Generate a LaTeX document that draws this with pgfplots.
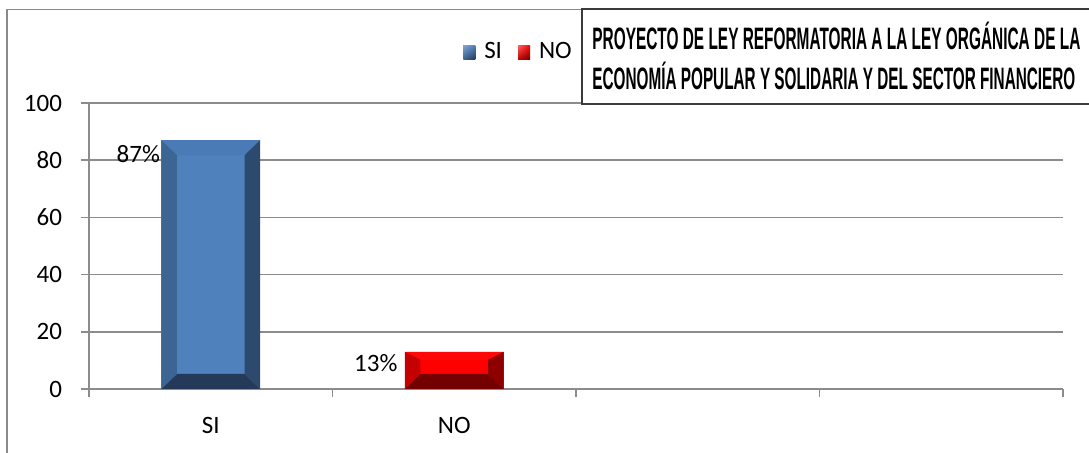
\documentclass[border=0pt]{standalone}
\usepackage{fontspec}
\setmainfont{Carlito}
\newfontfamily\titlefont{Liberation Sans}
\usepackage{pgfplots}
\pgfplotsset{compat=1.18}
\usetikzlibrary{shadings}
\usepackage{graphicx}
\definecolor{gridgray}{HTML}{8C8C8C}
\definecolor{bordergray}{HTML}{8A8A8A}
\definecolor{titlegray}{HTML}{3A3A3A}
\definecolor{siface}{HTML}{4F81BD}
\definecolor{sitop}{HTML}{4A7BB6}
\definecolor{sileft}{HTML}{3C6594}
\definecolor{siright}{HTML}{2C4A6E}
\definecolor{sibottom}{HTML}{243A58}
\definecolor{noface}{HTML}{FF0000}
\definecolor{notop}{HTML}{FF0808}
\definecolor{noleft}{HTML}{C40000}
\definecolor{noright}{HTML}{8E0000}
\definecolor{nobottom}{HTML}{740000}
\newcommand{\lblfont}{\fontsize{12.5}{15}\selectfont}
\begin{document}
\begin{tikzpicture}
\useasboundingbox (0,0) rectangle (544.5pt,226.5pt);
\fill[white] (0,0) rectangle (544.5pt,226.5pt);
\begin{scope}[x=0.5pt,y=-0.5pt,yshift=226.5pt]
  \draw[bordergray, line width=0.75pt] (7,470) -- (7,9.5) -- (1100,9.5);
\end{scope}
\begin{axis}[
  scale only axis, width=487pt, height=143pt,
  at={(44.5pt,32pt)}, anchor=south west,
  xmin=0, xmax=4, ymin=0, ymax=100,
  axis x line*=bottom, axis y line*=left,
  axis line style={-, gridgray, line width=0.75pt},
  ytick={0,20,40,60,80,100},
  yticklabels={0,20,40,60,80,100},
  xtick={0,1,2,3,4}, xticklabels={},
  extra x ticks={0.5,1.5}, extra x tick labels={SI,NO},
  extra x tick style={major tick length=0pt},
  tick align=outside, major tick length=4pt,
  tick style={gridgray, line width=0.75pt},
  ymajorgrids, grid style={gridgray, line width=0.75pt},
  ticklabel style={font=\lblfont, black},
  yticklabel style={xshift=-6pt},
  xticklabel style={yshift=-10.5pt},
  legend style={at={(0.442,1.178)}, anchor=center, draw=none, fill=none,
    font=\lblfont, legend columns=-1,
    /tikz/every odd column/.append style={column sep=2.5pt},
    /tikz/every even column/.append style={column sep=6pt}},
]
\addplot[ybar, bar width=0.406, fill=siface, draw=none,
  legend image code/.code={\shade[upper left=siface!70!white, upper right=siface, lower left=sileft, lower right=sibottom] (0pt,-3.5pt) rectangle (6pt,3.5pt);}]
  coordinates {(0.5,87)};
\addlegendentry{SI}
\addplot[ybar, bar width=0.406, fill=noface, draw=none,
  legend image code/.code={\shade[upper left=noface!60!white, upper right=noface, lower left=noleft, lower right=nobottom] (0pt,-3.5pt) rectangle (6pt,3.5pt);}]
  coordinates {(1.5,13)};
\addlegendentry{NO}
% bevels SI
\fill[sitop] (axis cs:0.297,87) -- (axis cs:0.703,87) -- (axis cs:0.639,81.75) -- (axis cs:0.361,81.75) -- cycle;
\fill[sibottom] (axis cs:0.297,0) -- (axis cs:0.703,0) -- (axis cs:0.639,5.25) -- (axis cs:0.361,5.25) -- cycle;
\fill[sileft] (axis cs:0.297,0) -- (axis cs:0.361,5.25) -- (axis cs:0.361,81.75) -- (axis cs:0.297,87) -- cycle;
\fill[siright] (axis cs:0.703,0) -- (axis cs:0.639,5.25) -- (axis cs:0.639,81.75) -- (axis cs:0.703,87) -- cycle;
% bevels NO
\fill[notop] (axis cs:1.297,13) -- (axis cs:1.703,13) -- (axis cs:1.639,10.2) -- (axis cs:1.361,10.2) -- cycle;
\fill[nobottom] (axis cs:1.297,0) -- (axis cs:1.703,0) -- (axis cs:1.639,5.25) -- (axis cs:1.361,5.25) -- cycle;
\fill[noleft] (axis cs:1.297,0) -- (axis cs:1.361,5.25) -- (axis cs:1.361,10.2) -- (axis cs:1.297,13) -- cycle;
\fill[noright] (axis cs:1.703,0) -- (axis cs:1.639,5.25) -- (axis cs:1.639,10.2) -- (axis cs:1.703,13) -- cycle;
% data labels
\node[anchor=east, inner sep=0pt, font=\lblfont, xshift=-0.5pt] at (axis cs:0.297,82) {87\%};
\node[anchor=east, inner sep=0pt, font=\lblfont, xshift=-3.5pt] at (axis cs:1.297,9.1) {13\%};
\end{axis}
\begin{scope}[x=0.5pt,y=-0.5pt,yshift=226.5pt]
  \draw[fill=white, draw=titlegray, line width=1pt] (582,9.5) rectangle (1100,104.5);
  \node[anchor=base west, inner sep=0pt, font=\titlefont\bfseries\fontsize{12.3}{14}\selectfont] at (592,50)
    {\resizebox{244pt}{1.26\height}{PROYECTO DE LEY REFORMATORIA A LA LEY ORGÁNICA DE LA}};
  \node[anchor=base west, inner sep=0pt, font=\titlefont\bfseries\fontsize{12.3}{14}\selectfont] at (592,90)
    {\resizebox{241.5pt}{1.26\height}{ECONOMÍA POPULAR Y SOLIDARIA Y DEL SECTOR FINANCIERO}};
\end{scope}
\end{tikzpicture}
\end{document}
